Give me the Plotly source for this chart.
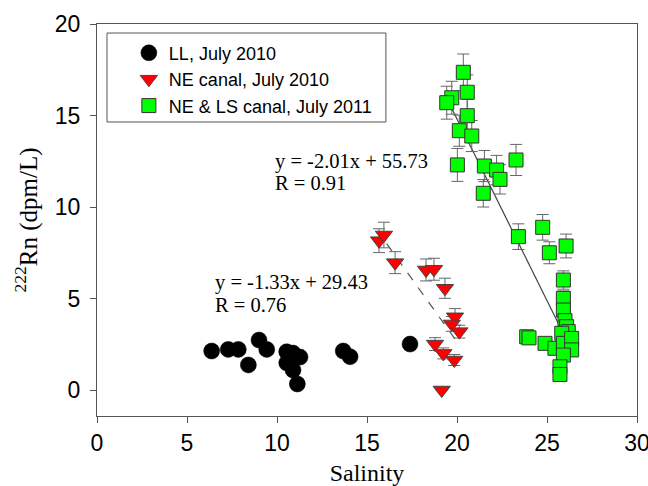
import plotly.graph_objects as go

# LL, July 2010
ll_x = [6.37, 7.29, 7.85, 8.41, 9.0, 9.43, 10.54, 10.89, 11.28, 10.54, 10.89, 11.13, 13.68, 14.06, 17.39]
ll_y = [2.13, 2.22, 2.22, 1.37, 2.73, 2.22, 2.09, 2.02, 1.80, 1.48, 1.09, 0.33, 2.13, 1.82, 2.51]
ll_err = [0.25, 0.25, 0.25, 0.2, 0.3, 0.25, 0.25, 0.25, 0.2, 0.2, 0.2, 0.1, 0.25, 0.2, 0.3]

# NE canal, July 2010
ne_x = [15.67, 15.94, 16.56, 18.28, 18.72, 19.33, 19.89, 19.71, 20.13, 18.78, 19.24, 19.85, 19.15]
ne_y = [8.16, 8.47, 6.96, 6.56, 6.60, 5.56, 4.0, 3.61, 3.19, 2.51, 2.0, 1.64, 0.0]
ne_err = [0.65, 0.7, 0.6, 0.6, 0.6, 0.55, 0.45, 0.4, 0.35, 0.35, 0.3, 0.3, 0.0]

# NE & LS canal, July 2011
ls_x = [20.35, 20.57, 19.71, 19.43, 20.57, 20.13, 20.82, 20.02, 21.52, 22.2, 22.39, 23.28, 21.46,
        23.41, 24.76, 25.13, 26.06, 25.91, 25.91, 25.91, 26.0, 26.09, 26.18, 23.87, 24.0,
        24.89, 25.44, 25.82, 25.91, 26.37, 26.37, 25.91, 25.72, 25.72]
ls_y = [17.36, 16.27, 15.97, 15.70, 14.99, 14.17, 13.88, 12.30, 12.24, 12.02, 11.51, 12.57, 10.75,
        8.38, 8.89, 7.50, 7.87, 6.01, 5.01, 4.37, 3.79, 3.46, 3.19, 2.91, 2.85,
        2.55, 2.28, 3.10, 2.55, 2.82, 2.19, 1.91, 1.27, 0.85]
ls_err = [1.0, 0.95, 0.9, 0.9, 0.9, 0.85, 0.85, 0.9, 0.85, 0.8, 0.8, 0.85, 0.75,
          0.7, 0.7, 0.6, 0.65, 0.5, 0.4, 0.35, 0.3, 0.3, 0.3, 0.25, 0.25,
          0.2, 0.2, 0.25, 0.2, 0.25, 0.2, 0.15, 0.1, 0.1]

# regression line end points
fit_ne_x = [16.09, 20.13]
fit_ne_y = [8.0, 2.46]
fit_ls_x = [19.4, 25.9]
fit_ls_y = [16.0, 3.1]

eq_ls = ["y = -2.01x + 55.73", "R = 0.91"]
eq_ne = ["y = -1.33x + 29.43", "R = 0.76"]

x_ticks = [0, 5, 10, 15, 20, 25, 30]
y_ticks = [0, 5, 10, 15, 20]

AX = "#555555"
ERR = "#666666"

fig = go.Figure()

fig.add_trace(go.Scatter(x=fit_ls_x, y=fit_ls_y, mode="lines", showlegend=False,
                         line=dict(color="#444444", width=1.2)))
fig.add_trace(go.Scatter(x=fit_ne_x, y=fit_ne_y, mode="lines", showlegend=False,
                         line=dict(color="#555555", width=1.2, dash="dash")))

fig.add_trace(go.Scatter(
    x=ll_x, y=ll_y, mode="markers", name="LL, July 2010",
    marker=dict(symbol="circle", size=16, color="black", line=dict(color="black", width=0.5)),
    error_y=dict(type="data", array=ll_err, color=ERR, thickness=1, width=6)))
fig.add_trace(go.Scatter(
    x=ne_x, y=ne_y, mode="markers", name="NE canal, July 2010",
    marker=dict(symbol="triangle-down", size=15, color="#ff0000", line=dict(color="#444444", width=1)),
    error_y=dict(type="data", array=ne_err, color=ERR, thickness=1, width=6)))
fig.add_trace(go.Scatter(
    x=ls_x, y=ls_y, mode="markers", name="NE & LS canal, July 2011",
    marker=dict(symbol="square", size=14, color="#00ff00", line=dict(color="#333333", width=1)),
    error_y=dict(type="data", array=ls_err, color=ERR, thickness=1, width=6)))

serif = "Liberation Serif, Times New Roman, serif"
sans = "Liberation Sans, Arial, sans-serif"

ann = []
for i, t in enumerate(eq_ls):
    ann.append(dict(x=9.78, y=12.5 - i * 1.2, xref="x", yref="y", text=t, showarrow=False,
                    xanchor="left", yanchor="middle", font=dict(family=serif, size=20.5, color="black")))
for i, t in enumerate(eq_ne):
    ann.append(dict(x=6.44, y=5.9 - i * 1.25, xref="x", yref="y", text=t, showarrow=False,
                    xanchor="left", yanchor="middle", font=dict(family=serif, size=20.5, color="black")))

fig.update_layout(
    width=648, height=486,
    margin=dict(l=97, r=11, t=24, b=70),
    paper_bgcolor="white", plot_bgcolor="white",
    showlegend=True,
    legend=dict(x=0.059, y=0.973, xanchor="left", yanchor="top",
                bgcolor="rgba(0,0,0,0)", borderwidth=0,
                font=dict(family=sans, size=18, color="black")),
    shapes=[dict(type="rect", xref="paper", yref="paper", x0=0.0185, x1=0.535, y0=0.75, y1=0.977,
                 line=dict(color=AX, width=1), fillcolor="rgba(0,0,0,0)")],
    annotations=ann,
    xaxis=dict(range=[0, 30], tickvals=x_ticks, ticks="outside", ticklen=6, tickcolor=AX,
               showline=True, linecolor=AX, linewidth=1, mirror=True, showgrid=False, zeroline=False,
               automargin=False, ticklabeloverflow="allow",
               tickfont=dict(family=sans, size=23, color="black"),
               title=dict(text="Salinity", font=dict(family=serif, size=24, color="black"), standoff=18)),
    yaxis=dict(range=[-1.42, 20], tickvals=y_ticks, ticks="outside", ticklen=6, tickcolor=AX,
               showline=True, linecolor=AX, linewidth=1, mirror=True, showgrid=False, zeroline=False,
               automargin=False, ticklabelstandoff=5,
               tickfont=dict(family=sans, size=23, color="black"),
               title=dict(text="<sup>222</sup>Rn (dpm/L)", font=dict(family=serif, size=25, color="black"),
                          standoff=10)),
)

fig.write_html("out.html")
